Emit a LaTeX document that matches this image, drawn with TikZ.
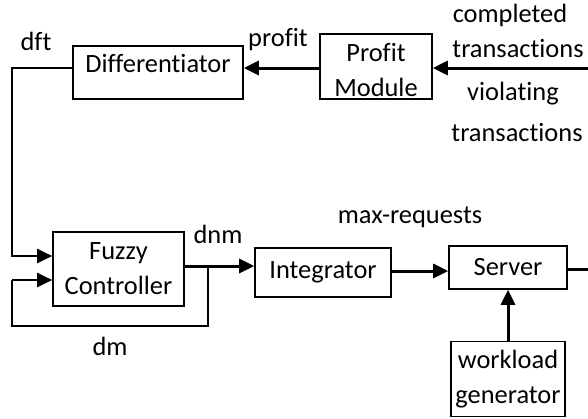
\documentclass[tikz,border=0pt]{standalone}
\usepackage{fontspec}
\setmainfont{Carlito}[Ligatures={NoCommon}]
\usetikzlibrary{arrows.meta}
\newcommand{\twolines}[3]{\raisebox{#1}[0pt][0pt]{\vbox{\baselineskip=35pt\halign{\hfil##\hfil\cr #2\cr #3\cr}}}}
\begin{document}
\begin{tikzpicture}[x=1pt,y=-1pt,
  every node/.style={font=\fontsize{26.4}{35}\selectfont, inner sep=0pt},
  box/.style={draw, line width=1.6pt, align=center},
  lbl/.style={anchor=base},
  thin/.style={line width=2pt},
  thick/.style={line width=3pt},
  tip/.style={-{Triangle[length=15pt,width=14pt]}}]
\useasboundingbox (0,0) rectangle (588,418);
% boxes
\node[box, minimum width=170, minimum height=53, text height=18pt, text depth=18pt] (diff) at (158,72.5) {Differentiator};
\node[box, minimum width=112, minimum height=65] (profit) at (376,66.5) {\twolines{-29.5pt}{Profit}{Module}};
\node[box, minimum width=131, minimum height=74] (fuzzy) at (118.5,269) {Fuzzy\\Controller};
\node[box, minimum width=136, minimum height=49] (integ) at (323,272.5) {Integrator};
\node[box, minimum width=118, minimum height=43] (server) at (508,267.5) {Server};
\node[box, minimum width=114, minimum height=75] (work) at (508,379) {workload\\generator};
% coordinates
\coordinate (inR) at (588,68);
\coordinate (dftc) at (12,256);
\coordinate (dnm) at (208,266);
\coordinate (fbc) at (12,326);
\coordinate (fbin) at (12,280);
\coordinate (mr) at (0,271);
\coordinate (outR) at (588,269);
% connectors
\draw[thick,tip] (inR) -- (inR -| profit.east);
\draw[thick,tip] (profit.west |- inR) -- (diff.east |- inR);
\draw[thin,tip] (diff.west |- inR) -| (dftc) -- (dftc -| fuzzy.west);
\draw[thick,tip] (fuzzy.east |- dnm) -- (integ.west |- dnm);
\draw[thin] (dnm) |- (fbc) -- (fbin);
\draw[thin,tip] (fbin) -- (fbin -| fuzzy.west);
\draw[thick,tip] (integ.east |- mr) -- (server.west |- mr);
\draw[thick] (server.east |- outR) -- (outR);
\draw[thick,tip] (work.north) -- (server.south);
% labels
\node[lbl] (ldft) at (36,50) {dft};
\node[lbl] (lprofit) at (278,46) {profit};
\node[lbl] (lcomp) at (510,22) {completed};
\node[lbl] (ltr1) at (518,57) {transactions};
\node[lbl] (lviol) at (513,100) {violating};
\node[lbl] (ltr2) at (517,141) {transactions};
\node[lbl] (ldnm) at (218,243) {dnm};
\node[lbl] (ldm) at (110,355) {dm};
\node[lbl] (lmax) at (410,223) {max-requests};
\end{tikzpicture}
\end{document}
